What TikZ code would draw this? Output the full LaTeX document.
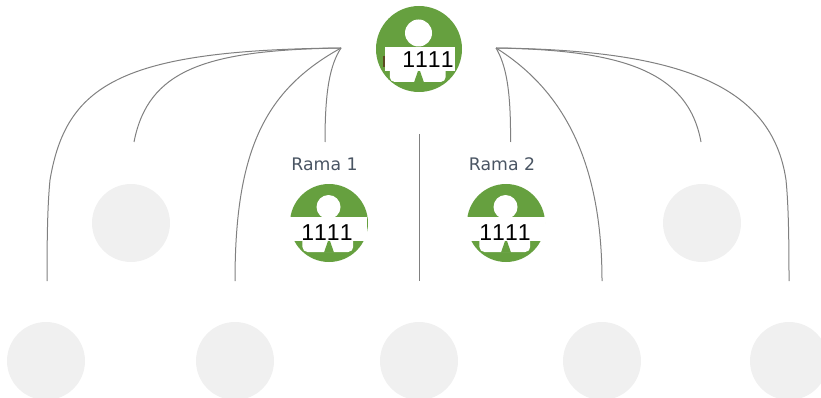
\documentclass[tikz,border=0pt]{standalone}
\usepackage{fontspec}
\setmainfont{Liberation Sans}[Kerning=Off]
\newfontfamily\capfont{DejaVu Sans}
\definecolor{personGreen}{HTML}{66A03F}
\definecolor{ghost}{HTML}{F0F0F0}
\definecolor{wire}{HTML}{808080}
\definecolor{capt}{HTML}{4A5563}
\definecolor{fleck}{HTML}{5A4A20}
\tikzset{
  wirep/.style={draw=wire,line width=1pt},
  ghostc/.style={circle,fill=ghost,minimum size=78pt,inner sep=0pt},
  numlabel/.style={inner sep=0pt,font=\fontsize{23}{25}\selectfont,text=black,anchor=base},
  capnode/.style={font=\capfont\fontsize{17.3}{19}\selectfont,text=capt,inner sep=0pt,anchor=base},
}
% #1 cx, #2 cy, #3 radius, #4 head radius, #5 head y, #6 box left, #7 box right, #8 box top, #9 box bottom
\newcommand{\personicon}[9]{%
  \fill[personGreen] (#1,#2) circle (#3);
  \fill[white] (#1-0.5,#5) circle (#4);
  \fill[white,rounded corners=5pt] (#1-0.68*#3,#8+4) rectangle (#1+0.62*#3,#9+11);
  \fill[personGreen] (#1-5,#9+11.5) -- (#1-1,#9) -- (#1+1,#9) -- (#1+5,#9+11.5) -- cycle;
  \fill[white] (#6,#8) rectangle (#7,#9);
}
\begin{document}
\begin{tikzpicture}[x=1pt,y=-1pt]
  \useasboundingbox (0,0) rectangle (821,398);
  \begin{scope}
    \clip (0,0) rectangle (821,398);
    \node[ghostc] (g1) at (131,223) {};
    \node[ghostc] (g2) at (702,223) {};
    \node[ghostc] (b1) at (46,361) {};
    \node[ghostc] (b2) at (235,361) {};
    \node[ghostc] (b3) at (419,361) {};
    \node[ghostc] (b4) at (602,361) {};
    \node[ghostc] (b5) at (789,361) {};
  \end{scope}

  \coordinate (hl) at (341,48);
  \coordinate (hr) at (496,48);
  \coordinate (e1) at (47,281);
  \coordinate (e2) at (134,142);
  \coordinate (e3) at (235,281);
  \coordinate (e4) at (325,142);
  \coordinate (e5) at (510.5,142);
  \coordinate (e6) at (701,142);
  \coordinate (e7) at (602,281);
  \coordinate (e8) at (789,281);
  \coordinate (v1) at (419,134);
  \coordinate (v2) at (419,281);

  \draw[wirep] (hl) .. controls (120,50) and (66,85) .. (50,180) .. controls (47.5,205) and (47,240) .. (e1);
  \draw[wirep] (hl) .. controls (205,50) and (148,70) .. (e2);
  \draw[wirep] (hl) .. controls (265,90) and (235,150) .. (e3);
  \draw[wirep] (hl) .. controls (330,65) and (325,90) .. (e4);
  \draw[wirep] (hr) .. controls (506,65) and (511,90) .. (e5);
  \draw[wirep] (hr) .. controls (620,50) and (688,70) .. (e6);
  \draw[wirep] (hr) .. controls (555,85) and (602,150) .. (e7);
  \draw[wirep] (hr) .. controls (680,50) and (772,85) .. (786,180) .. controls (788.5,205) and (789,240) .. (e8);
  \draw[wirep] (v1) -- (v2);

  \personicon{419}{49}{43}{13.5}{33}{385}{455}{47}{71}
  \fill[fleck] (383,56) rectangle (385,67);
  \node[numlabel] (n0) at (428,68) {1111};

  \personicon{329}{223}{39}{12}{207}{290}{367}{217}{241}
  \node[numlabel] (n1) at (327,240) {1111};

  \personicon{506}{223}{39}{12}{207}{467}{545}{217}{241}
  \node[numlabel] (n2) at (505,240) {1111};

  \node[capnode] (r1) at (324.5,171) {Rama 1};
  \node[capnode] (r2) at (502,171) {Rama 2};
\end{tikzpicture}
\end{document}
